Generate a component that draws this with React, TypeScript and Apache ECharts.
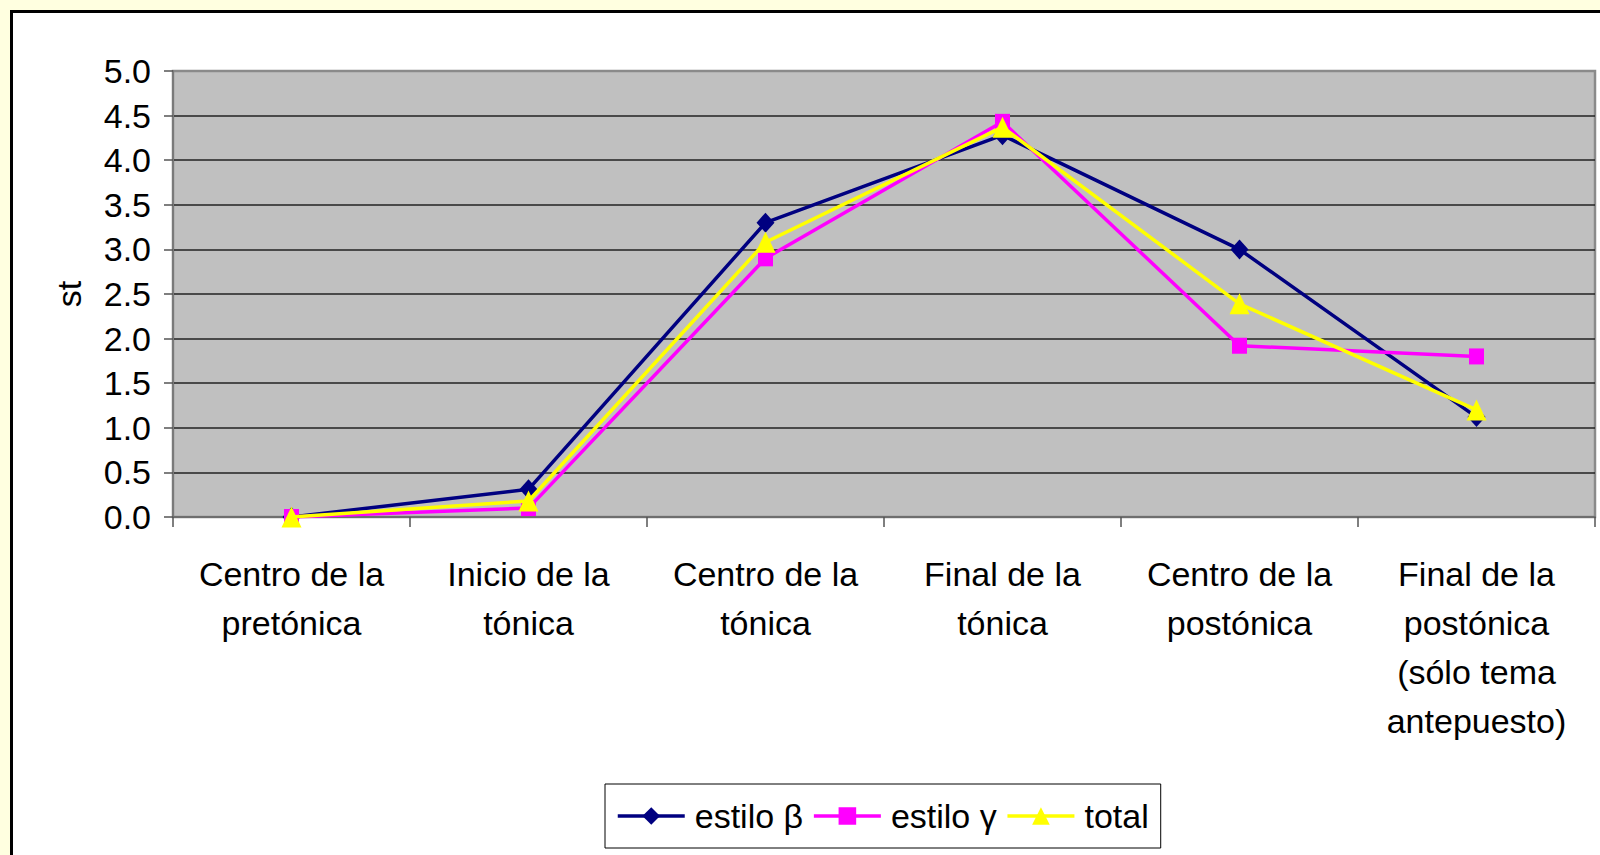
import React, { useEffect, useRef } from "react";
import * as echarts from "echarts";

const categories = [
  "Centro de la\npretónica",
  "Inicio de la\ntónica",
  "Centro de la\ntónica",
  "Final de la\ntónica",
  "Centro de la\npostónica",
  "Final de la\npostónica\n(sólo tema\nantepuesto)",
];
const seriesNames = ["estilo β", "estilo γ", "total"];
const betaValues = [0, 0.31, 3.3, 4.28, 3.0, 1.12];
const gammaValues = [0, 0.1, 2.9, 4.43, 1.92, 1.8];
const totalValues = [0, 0.18, 3.08, 4.37, 2.39, 1.2];
const yMin = 0;
const yMax = 5;
const yInterval = 0.5;
const yName = "st";

const FONT = "'Liberation Sans', Arial, sans-serif";

export default function App() {
  const ref = useRef<HTMLDivElement>(null);
  useEffect(() => {
    if (!ref.current) return;
    const chart = echarts.init(ref.current, undefined, { renderer: "svg" });
    chart.setOption({
      animation: false,
      backgroundColor: "transparent",
      textStyle: { fontFamily: FONT, color: "#000" },
      grid: {
        left: 173,
        right: 5,
        top: 71,
        bottom: 338,
        show: true,
        backgroundColor: "#C0C0C0",
        borderColor: "#8a8a8a",
        borderWidth: 2.5,
      },
      legend: {
        left: 605,
        top: 784,
        orient: "horizontal",
        data: seriesNames,
        itemWidth: 67,
        itemHeight: 22,
        itemGap: 9,
        padding: [14, 12, 14, 11],
        borderColor: "#000",
        borderWidth: 1,
        backgroundColor: "#fff",
        lineStyle: { width: 3.5 },
        textStyle: {
          fontFamily: FONT,
          fontSize: 34,
          color: "#000",
          lineHeight: 36,
          padding: [0, 0, 0, 5],
        },
      },
      xAxis: {
        type: "category",
        data: categories,
        boundaryGap: true,
        axisLine: { show: true, lineStyle: { color: "#6e6e6e", width: 2 } },
        axisTick: { show: true, length: 10, lineStyle: { color: "#555", width: 1.5 } },
        axisLabel: {
          interval: 0,
          margin: 32,
          fontFamily: FONT,
          fontSize: 34,
          lineHeight: 49,
          color: "#000",
          align: "center",
        },
        splitLine: { show: false },
      },
      yAxis: {
        type: "value",
        min: yMin,
        max: yMax,
        interval: yInterval,
        name: yName,
        nameLocation: "middle",
        nameRotate: 90,
        nameGap: 87,
        nameTextStyle: { fontFamily: FONT, fontSize: 34, color: "#000" },
        axisLine: { show: true, lineStyle: { color: "#7a7a7a", width: 2 } },
        axisTick: { show: true, length: 9, lineStyle: { color: "#555", width: 1.5 } },
        axisLabel: {
          margin: 22,
          fontFamily: FONT,
          fontSize: 34,
          color: "#000",
          formatter: (v: number) => v.toFixed(1),
        },
        splitLine: {
          show: true,
          showMaxLine: false,
          lineStyle: { color: "#222", width: 1.5 },
        },
      },
      series: [
        {
          name: seriesNames[0],
          type: "line",
          data: betaValues,
          symbol: "diamond",
          symbolSize: [18, 20],
          lineStyle: { color: "#000080", width: 3.5 },
          itemStyle: { color: "#000080" },
          z: 2,
        },
        {
          name: seriesNames[1],
          type: "line",
          data: gammaValues,
          symbol: "rect",
          symbolSize: [15, 16],
          lineStyle: { color: "#FF00FF", width: 3.5 },
          itemStyle: { color: "#FF00FF" },
          z: 3,
        },
        {
          name: seriesNames[2],
          type: "line",
          data: totalValues,
          symbol: "triangle",
          symbolSize: [20, 21],
          lineStyle: { color: "#FFFF00", width: 3.5 },
          itemStyle: { color: "#FFFF00" },
          z: 4,
        },
      ],
    });
    return () => chart.dispose();
  }, []);

  return (
    <div
      style={{
        position: "fixed",
        left: 0,
        top: 0,
        width: 1600,
        height: 855,
        background: "#FFFFE0",
        overflow: "hidden",
      }}
    >
      <div
        style={{
          position: "absolute",
          left: 10,
          top: 10,
          width: 1700,
          height: 1000,
          border: "3px solid #000",
          background: "#fff",
        }}
      />
      <div
        ref={ref}
        style={{ position: "absolute", left: 0, top: 0, width: 1600, height: 855 }}
      />
    </div>
  );
}
